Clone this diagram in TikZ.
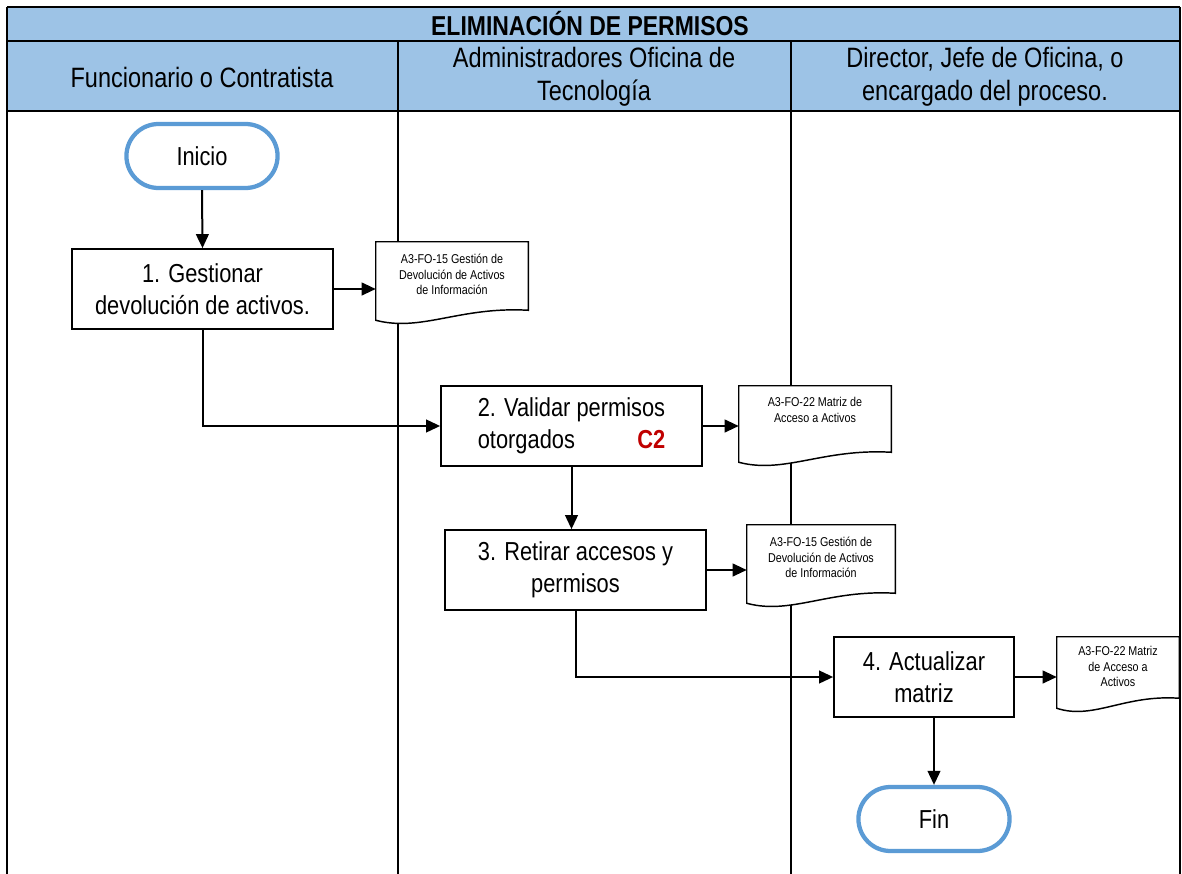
\documentclass[tikz,border=0pt]{standalone}
\usepackage{fontspec}
\setmainfont{Liberation Sans}[FakeStretch=0.84]
\usetikzlibrary{arrows.meta,shapes.misc,calc}
\definecolor{headblue}{HTML}{9DC3E6}
\definecolor{termblue}{HTML}{5B9BD5}
\definecolor{ctrlred}{HTML}{C00000}
\pgfdeclarelayer{lanes}
\pgfdeclarelayer{docs}
\pgfsetlayers{lanes,docs,main}
\begin{document}
\begin{tikzpicture}[x=0.75pt,y=-0.75pt,
  lane/.style={line width=1.5pt,draw=black},
  headtxt/.style={font=\fontsize{21}{25}\selectfont,align=center,inner sep=0pt},
  term/.style={rounded rectangle,draw=termblue,line width=3.2pt,fill=white,
    minimum width=120pt,minimum height=48pt,font=\fontsize{19.5}{24}\selectfont},
  stepbox/.style={rectangle,draw=black,line width=1.3pt,fill=white,
    minimum height=60pt,align=center,font=\fontsize{19.5}{24}\selectfont},
  docbox/.style={rectangle,draw=none,inner sep=0pt},
  doctxt/.style={anchor=north,align=center,inner sep=0pt,font=\fontsize{9.6}{11.8}\selectfont},
  docline/.style={draw=black,line width=1.1pt,fill=white},
  conn/.style={line width=1.5pt,-{Triangle[length=10.5pt,width=9.5pt]}}
]
\useasboundingbox (0,0) rectangle (1182,874);

% ---- lanes and header ----
\begin{pgfonlayer}{lanes}
\fill[headblue] (7,7) rectangle (1180,111);
\draw[lane] (7,7) -- (1180,7);
\draw[lane] (7,41) -- (1180,41);
\draw[lane] (7,111) -- (1180,111);
\draw[lane] (7,7) -- (7,880);
\draw[lane] (398,41) -- (398,880);
\draw[lane] (791,41) -- (791,880);
\draw[lane] (1180,7) -- (1180,880);
\end{pgfonlayer}
\node[headtxt,font=\fontsize{20.5}{25}\selectfont\bfseries] (title) at (590,24) {ELIMINACIÓN DE PERMISOS};
\node[headtxt] (h1) at (202,77) {Funcionario o Contratista};
\node[headtxt] (h2) at (594,77) {Administradores Oficina de\\Tecnología};
\node[headtxt] (h3) at (985,77) {Director, Jefe de Oficina, o\\encargado del proceso.};

% ---- terminals and steps ----
\node[term] (inicio) at (202,156) {Inicio};
\node[stepbox,minimum width=195.75pt] (b1) at (202.5,289) {1. Gestionar\\devolución de activos.};
\node[stepbox,minimum width=195.75pt] (b2) at (571.5,426)
  {\begin{tabular}{@{}l@{}}2. Validar permisos\\otorgados\hfill{\color{ctrlred}\bfseries C2}\end{tabular}};
\node[stepbox,minimum width=195.75pt] (b3) at (575.5,570) {3. Retirar accesos y\\permisos};
\node[stepbox,minimum width=135pt] (b4) at (924,677) {4. Actualizar\\matriz};
\node[term] (fin) at (934,819) {Fin};

% ---- documents ----
\node[docbox,minimum width=114pt,minimum height=58.5pt] (d1) at (452,281) {};
\node[docbox,minimum width=114pt,minimum height=57pt] (d2) at (815,424) {};
\node[docbox,minimum width=111pt,minimum height=58.5pt] (d3) at (821,564) {};
\node[docbox,minimum width=91.5pt,minimum height=53.25pt] (d4) at (1118,672.5) {};
\begin{pgfonlayer}{docs}
\foreach \d/\w in {d1/152,d2/152,d3/148,d4/122}{
  \draw[docline] (\d.north west) -- (\d.north east) -- ($(\d.south east)+(0,-10)$)
    .. controls ($(\d.south east)+(-0.45*\w,-14)$) and ($(\d.south west)+(0.3*\w,12)$) .. (\d.south west) -- cycle;
}
\end{pgfonlayer}
\node[doctxt] (t1) at ($(d1.north)+(0,12)$) {A3-FO-15 Gestión de\\Devolución de Activos\\de Información};
\node[doctxt] (t2) at ($(d2.north)+(0,11)$) {A3-FO-22 Matriz de\\Acceso a Activos};
\node[doctxt] (t3) at ($(d3.north)+(0,12)$) {A3-FO-15 Gestión de\\Devolución de Activos\\de Información};
\node[doctxt] (t4) at ($(d4.north)+(0,9)$) {A3-FO-22 Matriz\\de Acceso a\\Activos};

% ---- connectors ----
\draw[conn] (inicio.south) -- (b1.north);
\draw[conn] (b1.east) -- (b1.east -| d1.west);
\draw[conn] (b1.south) |- (b2.west);
\draw[conn] (b2.east) -- (b2.east -| d2.west);
\draw[conn] (b2.south) -- (b2.south |- b3.north);
\draw[conn] (b3.east) -- (b3.east -| d3.west);
\draw[conn] (b3.south) |- (b4.west);
\draw[conn] (b4.east) -- (b4.east -| d4.west);
\draw[conn] (fin.north |- b4.south) -- (fin.north);
\end{tikzpicture}
\end{document}
